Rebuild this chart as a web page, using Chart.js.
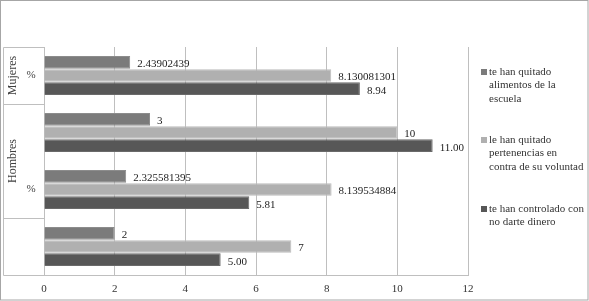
<!DOCTYPE html>
<html>
<head>
<meta charset="utf-8">
<script src="https://cdn.jsdelivr.net/npm/chart.js@4/dist/chart.umd.min.js"></script>
<style>
  html, body { margin: 0; padding: 0; background: #fff; }
  #wrap { position: relative; width: 589px; height: 301px; }
</style>
</head>
<body>
<div id="wrap"><canvas id="grafico" width="589" height="301"></canvas></div>
<script>
// Categorias (grupo exterior y subcategoria)
const categorias = ["Mujeres %", "Hombres", "Hombres %", ""];
const gruposExteriores = [
  { texto: "Mujeres", desde: 0, hasta: 0 },
  { texto: "Hombres", desde: 1, hasta: 2 },
  { texto: "", desde: 3, hasta: 3 }
];
const subEtiquetas = ["%", "", "%", ""];

// Series
const serieAlimentos = [2.43902439, 3, 2.325581395, 2];
const seriePertenencias = [8.130081301, 10, 8.139534884, 7];
const serieDinero = [8.94, 11, 5.81, 5];

// Etiquetas de datos tal como aparecen
const etiquetasAlimentos = ["2.43902439", "3", "2.325581395", "2"];
const etiquetasPertenencias = ["8.130081301", "10", "8.139534884", "7"];
const etiquetasDinero = ["8.94", "11.00", "5.81", "5.00"];

// Leyenda (texto partido en lineas)
const nombresSeries = [
  ["te han quitado", "alimentos de la", "escuela"],
  ["le han quitado", "pertenencias en", "contra de su voluntad"],
  ["te han controlado con", "no darte dinero"]
];

const ticksX = [0, 2, 4, 6, 8, 10, 12];

const fuente = "'Liberation Serif', 'Times New Roman', serif";
const colorTexto = "#333333";
const colorLinea = "#bfbfbf";

const etiquetasPorSerie = [etiquetasAlimentos, etiquetasPertenencias, etiquetasDinero];

// Plugin: etiquetas de valor, ejes jerarquicos, leyenda y marco
const pluginExtras = {
  id: "extras",
  afterDatasetsDraw(chart) {
    const ctx = chart.ctx;
    ctx.save();
    ctx.font = "11px " + fuente;
    ctx.fillStyle = "#222";
    ctx.textBaseline = "middle";
    ctx.textAlign = "left";
    chart.data.datasets.forEach((ds, i) => {
      const meta = chart.getDatasetMeta(i);
      meta.data.forEach((bar, j) => {
        ctx.fillText(etiquetasPorSerie[i][j], bar.x + 7, bar.y + 2);
      });
    });
    ctx.restore();
  },
  afterDraw(chart) {
    const ctx = chart.ctx;
    const y = chart.scales.y;
    const area = chart.chartArea;
    const n = categorias.length;
    const paso = (y.getPixelForValue(1) - y.getPixelForValue(0));
    const borde = (i) => y.getPixelForValue(i) - paso / 2;
    const xIzq = 3.5;

    ctx.save();
    ctx.strokeStyle = colorLinea;
    ctx.lineWidth = 1;

    // caja de etiquetas del eje vertical
    ctx.beginPath();
    ctx.moveTo(xIzq, Math.round(borde(0)) + 0.5);
    ctx.lineTo(xIzq, Math.round(borde(n)) + 0.5);
    gruposExteriores.forEach(g => {
      const yy = Math.round(borde(g.desde)) + 0.5;
      ctx.moveTo(xIzq, yy);
      ctx.lineTo(area.left, yy);
    });
    const yFin = Math.round(borde(n)) + 0.5;
    ctx.moveTo(xIzq, yFin);
    ctx.lineTo(area.left, yFin);
    ctx.stroke();

    ctx.fillStyle = "#404040";
    ctx.font = "12px " + fuente;
    ctx.textAlign = "center";
    ctx.textBaseline = "middle";
    gruposExteriores.forEach(g => {
      if (!g.texto) return;
      const yc = (borde(g.desde) + borde(g.hasta + 1)) / 2;
      ctx.save();
      ctx.translate(13, yc);
      ctx.rotate(-Math.PI / 2);
      ctx.fillText(g.texto, 0, 0);
      ctx.restore();
    });
    ctx.font = "11px " + fuente;
    subEtiquetas.forEach((t, i) => {
      if (!t) return;
      ctx.fillText(t, 31, y.getPixelForValue(i));
    });

    // leyenda
    const lineasY = [72, 140, 209];
    ctx.font = "11px " + fuente;
    ctx.textAlign = "left";
    chart.data.datasets.forEach((ds, i) => {
      ctx.fillStyle = ds.backgroundColor;
      ctx.fillRect(481, lineasY[i] - 3, 6, 6);
      ctx.fillStyle = colorTexto;
      nombresSeries[i].forEach((linea, k) => {
        ctx.fillText(linea, 489, lineasY[i] + k * 13.5);
      });
    });

    // marco exterior
    ctx.strokeStyle = "#a6a6a6";
    ctx.strokeRect(0.5, 0.5, chart.width - 1.5, chart.height - 1.5);
    ctx.restore();
  }
};

new Chart(document.getElementById("grafico"), {
  type: "bar",
  data: {
    labels: categorias,
    datasets: [
      {
        label: nombresSeries[0].join(" "),
        data: serieAlimentos,
        backgroundColor: "#7b7b7b",
        borderColor: "#8c8c8c",
        borderWidth: 1,
        categoryPercentage: 0.69,
        barPercentage: 0.97
      },
      {
        label: nombresSeries[1].join(" "),
        data: seriePertenencias,
        backgroundColor: "#b0b0b0",
        borderColor: "#bcbcbc",
        borderWidth: 1,
        categoryPercentage: 0.69,
        barPercentage: 0.97
      },
      {
        label: nombresSeries[2].join(" "),
        data: serieDinero,
        backgroundColor: "#575757",
        borderColor: "#6a6a6a",
        borderWidth: 1,
        categoryPercentage: 0.69,
        barPercentage: 0.97
      }
    ]
  },
  options: {
    indexAxis: "y",
    responsive: false,
    animation: false,
    devicePixelRatio: 1,
    layout: { padding: { left: 0, right: 121, top: 47, bottom: 0 } },
    plugins: {
      legend: { display: false },
      tooltip: { enabled: false }
    },
    scales: {
      x: {
        min: 0,
        max: 12,
        afterFit: (s) => { s.height = 26; },
        afterBuildTicks: (s) => { s.ticks = ticksX.map(v => ({ value: v })); },
        grid: { color: colorLinea, drawTicks: false },
        border: { color: colorLinea },
        ticks: {
          padding: 8,
          color: colorTexto,
          font: { family: fuente, size: 11 }
        }
      },
      y: {
        afterFit: (s) => { s.width = 44; },
        grid: { display: false, drawTicks: false },
        border: { color: colorLinea },
        ticks: { display: false }
      }
    }
  },
  plugins: [pluginExtras]
});
</script>
</body>
</html>
